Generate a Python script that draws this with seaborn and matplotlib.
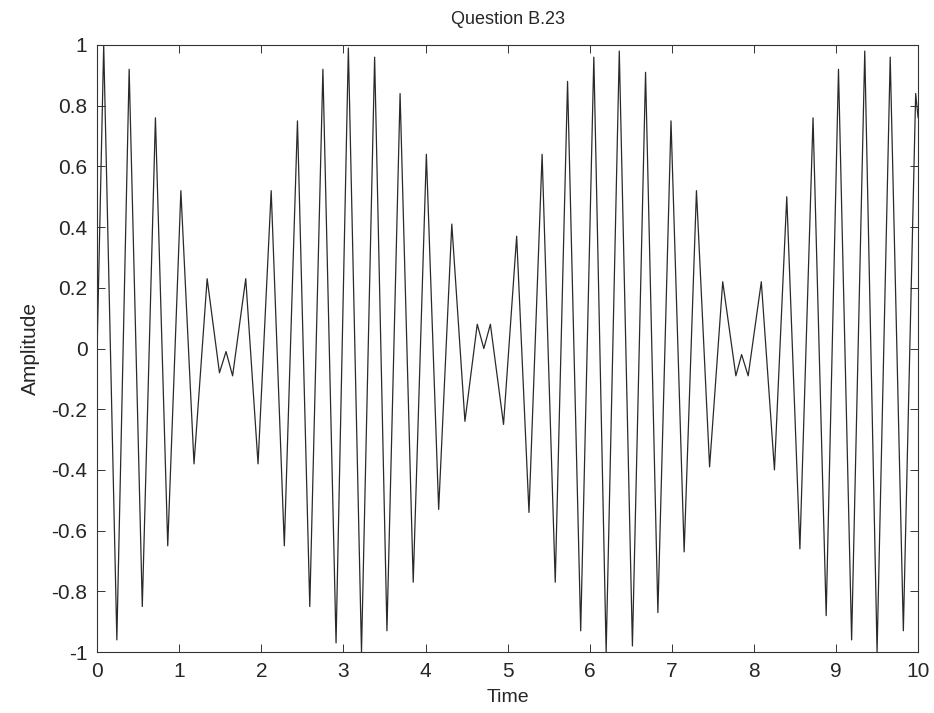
import numpy as np
import pandas as pd
import seaborn as sns
import matplotlib
matplotlib.use("Agg")
import matplotlib.pyplot as plt

# turning points of the signal
time = [0.00, 0.08, 0.24, 0.39, 0.55, 0.71, 0.86, 1.02, 1.18, 1.34,
        1.49, 1.57, 1.65, 1.81, 1.96, 2.12, 2.28, 2.44, 2.59, 2.75,
        2.91, 3.06, 3.22, 3.38, 3.53, 3.69, 3.85, 4.01, 4.16, 4.32,
        4.48, 4.63, 4.71, 4.79, 4.95, 5.11, 5.26, 5.42, 5.58, 5.73,
        5.89, 6.05, 6.20, 6.36, 6.52, 6.68, 6.83, 6.99, 7.15, 7.30,
        7.46, 7.62, 7.78, 7.85, 7.93, 8.09, 8.25, 8.40, 8.56, 8.72,
        8.88, 9.03, 9.19, 9.35, 9.50, 9.66, 9.82, 9.97, 10.00]
amplitude = [0.00, 1.00, -0.96, 0.92, -0.85, 0.76, -0.65, 0.52, -0.38, 0.23,
             -0.08, -0.01, -0.09, 0.23, -0.38, 0.52, -0.65, 0.75, -0.85, 0.92,
             -0.97, 0.99, -1.00, 0.96, -0.93, 0.84, -0.77, 0.64, -0.53, 0.41,
             -0.24, 0.08, 0.00, 0.08, -0.25, 0.37, -0.54, 0.64, -0.77, 0.88,
             -0.93, 0.96, -1.00, 0.98, -0.98, 0.91, -0.87, 0.75, -0.67, 0.52,
             -0.39, 0.22, -0.09, -0.02, -0.09, 0.22, -0.40, 0.50, -0.66, 0.76,
             -0.88, 0.92, -0.96, 0.98, -1.00, 0.96, -0.93, 0.84, 0.76]

x_ticks = list(range(0, 11))
y_ticks = [-1, -0.8, -0.6, -0.4, -0.2, 0, 0.2, 0.4, 0.6, 0.8, 1]
y_labels = ["-1", "-0.8", "-0.6", "-0.4", "-0.2", "0", "0.2", "0.4", "0.6", "0.8", "1"]

df = pd.DataFrame({"Time": time, "Amplitude": amplitude})

sns.set_theme(style="ticks")
plt.rcParams["font.family"] = ["Liberation Sans", "DejaVu Sans"]

fig = plt.figure(figsize=(9.34, 7.13), dpi=100)
ax = fig.add_axes([0.104, 0.0855, 0.879, 0.8514])

sns.lineplot(data=df, x="Time", y="Amplitude", ax=ax, color="#2a2a2a",
             linewidth=0.9, estimator=None)

ax.set_xlim(0, 10)
ax.set_ylim(-1, 1)
ax.set_xticks(x_ticks)
ax.set_xticklabels([str(t) for t in x_ticks])
ax.set_yticks(y_ticks)
ax.set_yticklabels(y_labels)
ax.tick_params(direction="in", length=6, width=0.7, color="#333333",
               top=True, right=True, labelsize=15, pad=7)
for s in ax.spines.values():
    s.set_linewidth(0.8)
    s.set_color("#333333")

ax.set_xlabel("Time", fontsize=14, labelpad=6)
ax.set_ylabel("Amplitude", fontsize=15, labelpad=8)
ax.set_title("Question B.23", fontsize=13, pad=15)

fig.savefig("out.png", dpi=100)
